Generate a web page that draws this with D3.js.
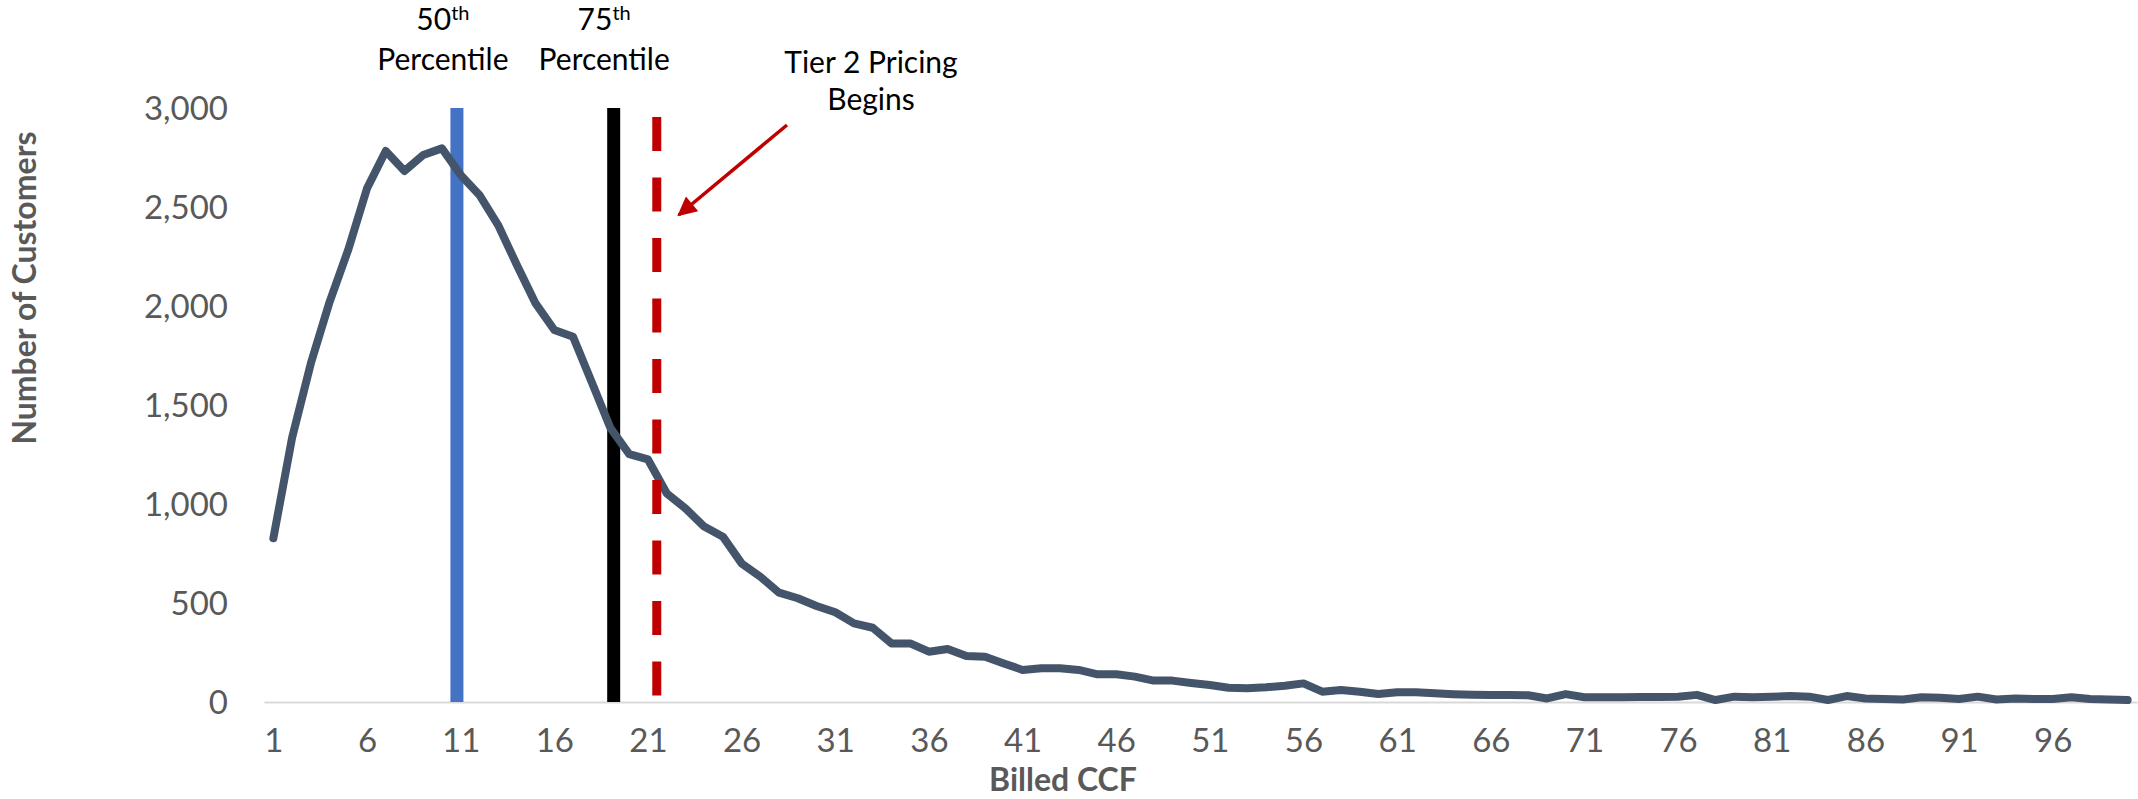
<!DOCTYPE html>
<html>
<head>
<meta charset="utf-8">
<script src="https://cdn.jsdelivr.net/npm/d3@7"></script>
<style>
  html, body { margin: 0; padding: 0; background: #ffffff; }
  svg { display: block; }
  text { font-family: "Lato", "Open Sans", sans-serif; }
</style>
</head>
<body>
<svg id="chart" width="2138" height="799"></svg>
<script>
// Billed consumption bins (CCF) and number of customers billed at each level
const billedCCF = [
  1, 2, 3, 4, 5, 6, 7, 8, 9, 10, 11, 12, 13, 14, 15, 16, 17, 18, 19, 20,
  21, 22, 23, 24, 25, 26, 27, 28, 29, 30, 31, 32, 33, 34, 35, 36, 37, 38, 39, 40,
  41, 42, 43, 44, 45, 46, 47, 48, 49, 50, 51, 52, 53, 54, 55, 56, 57, 58, 59, 60,
  61, 62, 63, 64, 65, 66, 67, 68, 69, 70, 71, 72, 73, 74, 75, 76, 77, 78, 79, 80,
  81, 82, 83, 84, 85, 86, 87, 88, 89, 90, 91, 92, 93, 94, 95, 96, 97, 98, 99, 100
];
const customers = [
  827, 1335, 1710, 2020, 2285, 2594, 2783, 2682, 2763, 2796,
  2662, 2561, 2409, 2207, 2013, 1879, 1845, 1615, 1383, 1252,
  1225, 1054, 978, 886, 835, 700, 633, 552, 524, 485,
  453, 397, 375, 296, 296, 254, 268, 232, 229, 195,
  162, 170, 170, 162, 140, 140, 128, 108, 108, 96,
  86, 72, 70, 74, 82, 94, 52, 61, 52, 40,
  49, 49, 44, 39, 36, 35, 35, 34, 18, 40,
  24, 24, 24, 25, 25, 26, 36, 10, 27, 24,
  27, 30, 27, 10, 30, 18, 15, 13, 24, 22,
  15, 27, 13, 18, 15, 15, 24, 15, 13, 10
];
const xTickLabels = ["1", "6", "11", "16", "21", "26", "31", "36", "41", "46",
                     "51", "56", "61", "66", "71", "76", "81", "86", "91", "96"];
const yTicks = [0, 500, 1000, 1500, 2000, 2500, 3000];

// Reference markers (positions in CCF)
const percentileNames = ["50", "75"];
const percentileCCF = [10.8, 19.17];
const percentileColors = ["#4472C4", "#000000"];
const tierCCF = 21.47;
const tierLabel = ["Tier 2 Pricing", "Begins"];

const svg = d3.select("#chart");
const x = d3.scaleLinear().domain([0.5, 100.5]).range([264, 2137]);
const y = d3.scaleLinear().domain([0, 3000]).range([702, 108]);

const tickColor = "#595959";

// Y axis (labels only)
const yAxis = svg.append("g")
  .attr("transform", `translate(${x(0.5)},0)`)
  .call(d3.axisLeft(y).tickValues(yTicks).tickFormat(d3.format(",")).tickSize(0).tickPadding(36));
yAxis.select(".domain").remove();
yAxis.selectAll("text")
  .attr("fill", tickColor).style("font-size", "33px").attr("dy", "0.36em");

// X axis with light baseline
const xAxis = svg.append("g")
  .attr("transform", `translate(0,${y(0)})`)
  .call(d3.axisBottom(x).tickValues(xTickLabels.map(Number)).tickFormat(d => String(d))
        .tickSize(0).tickSizeOuter(0).tickPadding(27));
xAxis.select(".domain").attr("stroke", "#D9D9D9").attr("stroke-width", 2);
xAxis.selectAll("text")
  .attr("fill", tickColor).style("font-size", "33px");

// Axis titles
svg.append("text")
  .attr("x", 1063).attr("y", 791)
  .attr("text-anchor", "middle")
  .attr("fill", tickColor).style("font-size", "32px").style("font-weight", "bold")
  .text("Billed CCF");
svg.append("text")
  .attr("transform", "translate(36,288) rotate(-90)")
  .attr("text-anchor", "middle")
  .attr("fill", tickColor).style("font-size", "32px").style("font-weight", "bold")
  .text("Number of Customers");

// Percentile markers (behind the distribution line)
svg.append("g").selectAll("line")
  .data(percentileCCF)
  .join("line")
  .attr("x1", d => x(d)).attr("x2", d => x(d))
  .attr("y1", y(3000)).attr("y2", y(0))
  .attr("stroke", (d, i) => percentileColors[i])
  .attr("stroke-width", 13);

// Distribution line
const line = d3.line()
  .x((d, i) => x(billedCCF[i]))
  .y(d => y(d));
svg.append("path")
  .datum(customers)
  .attr("d", line)
  .attr("fill", "none")
  .attr("stroke", "#44546A")
  .attr("stroke-width", 8)
  .attr("stroke-linejoin", "round")
  .attr("stroke-linecap", "round");

// Tier 2 threshold (dashed)
svg.append("line")
  .attr("x1", x(tierCCF)).attr("x2", x(tierCCF))
  .attr("y1", y(2955)).attr("y2", y(0))
  .attr("stroke", "#C00000")
  .attr("stroke-width", 9)
  .attr("stroke-dasharray", "34,26.5");

// Percentile labels
const labelOffsets = [-14, -9.5];
const pl = svg.append("g").selectAll("text")
  .data(percentileNames)
  .join("text")
  .attr("text-anchor", "middle")
  .attr("fill", "#000")
  .style("font-size", "30px");
pl.append("tspan")
  .attr("x", (d, i) => x(percentileCCF[i]) + labelOffsets[i])
  .attr("y", 30)
  .text(d => d)
  .append("tspan")
  .attr("dy", -10)
  .style("font-size", "20px")
  .text("th");
pl.append("tspan")
  .attr("x", (d, i) => x(percentileCCF[i]) + labelOffsets[i])
  .attr("y", 70)
  .text("Percentile");

// Tier 2 label and arrow
svg.append("text")
  .attr("text-anchor", "middle")
  .attr("fill", "#000")
  .style("font-size", "30px")
  .selectAll("tspan")
  .data(tierLabel)
  .join("tspan")
  .attr("x", 871)
  .attr("y", (d, i) => 73 + i * 37)
  .text(d => d);

svg.append("defs").append("marker")
  .attr("id", "arrowHead")
  .attr("viewBox", "0 0 10 10")
  .attr("refX", 9).attr("refY", 5)
  .attr("markerWidth", 6).attr("markerHeight", 5.5)
  .attr("markerUnits", "strokeWidth")
  .attr("orient", "auto")
  .append("path")
  .attr("d", "M0,0 L10,5 L0,10 Z")
  .attr("fill", "#C00000");

svg.append("line")
  .attr("x1", 787).attr("y1", 125)
  .attr("x2", x(tierCCF) + 22).attr("y2", 215)
  .attr("stroke", "#C00000")
  .attr("stroke-width", 3.5)
  .attr("marker-end", "url(#arrowHead)");
</script>
</body>
</html>
